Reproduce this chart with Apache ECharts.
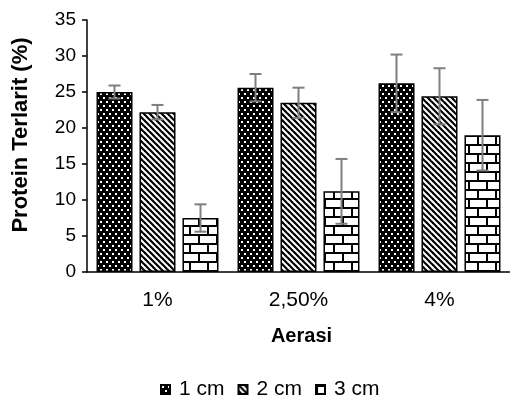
<!DOCTYPE html>
<html>
<head>
<meta charset="utf-8">
<script src="https://cdn.jsdelivr.net/npm/echarts@6/dist/echarts.min.js"></script>
<style>
  html, body { margin: 0; padding: 0; background: #fff; }
  #chart { width: 510px; height: 403px; }
</style>
</head>
<body>
<div id="chart"></div>
<script>
  // kategori aerasi
  var categories = ['1%', '2,50%', '4%'];
  var seriesNames = ['1 cm', '2 cm', '3 cm'];
  // rata-rata protein terlarit
  var val1cm = [25.0, 25.6, 26.2];
  var val2cm = [22.2, 23.5, 24.4];
  var val3cm = [7.5, 11.2, 19.0];
  // simpangan (error bar)
  var err1cm = [0.9, 1.9, 4.0];
  var err2cm = [1.0, 2.1, 3.9];
  var err3cm = [1.9, 4.5, 4.9];
  var yTicks = [0, 5, 10, 15, 20, 25, 30, 35];

  var values = [val1cm, val2cm, val3cm];
  var errors = [err1cm, err2cm, err3cm];

  var barW = 36;
  var barGapPx = 7;

  function makeTile(w, h, draw) {
    var c = document.createElement('canvas');
    c.width = w;
    c.height = h;
    draw(c.getContext('2d'));
    return c;
  }

  // titik putih di atas hitam
  var dotTile = makeTile(6, 8, function (ctx) {
    ctx.fillStyle = '#000';
    ctx.fillRect(0, 0, 6, 8);
    ctx.fillStyle = '#fff';
    ctx.fillRect(1, 1, 2, 2);
    ctx.fillRect(4, 5, 2, 2);
  });
  // garis miring
  var stripeTile = makeTile(6, 6, function (ctx) {
    ctx.fillStyle = '#fff';
    ctx.fillRect(0, 0, 6, 6);
    ctx.strokeStyle = '#000';
    ctx.lineWidth = 2.2;
    [-6, 0, 6].forEach(function (c) {
      ctx.beginPath();
      ctx.moveTo(-1, -1 + c);
      ctx.lineTo(7, 7 + c);
      ctx.stroke();
    });
  });
  // batu bata
  var brickTile = makeTile(18, 18, function (ctx) {
    ctx.fillStyle = '#fff';
    ctx.fillRect(0, 0, 18, 18);
    ctx.fillStyle = '#000';
    ctx.fillRect(0, 0, 18, 2);
    ctx.fillRect(0, 9, 18, 2);
    ctx.fillRect(0, 0, 2, 9);
    ctx.fillRect(9, 9, 2, 9);
  });
  var tiles = [dotTile, stripeTile, brickTile];

  var font = '"Liberation Sans", Arial, sans-serif';

  var barSeries = seriesNames.map(function (name, i) {
    return {
      name: name,
      type: 'bar',
      data: values[i],
      barWidth: barW,
      barGap: (barGapPx / barW * 100).toFixed(1) + '%',
      itemStyle: {
        color: { image: tiles[i], repeat: 'repeat' },
        borderColor: '#000',
        borderWidth: 1.5
      }
    };
  });

  var errSeries = seriesNames.map(function (name, i) {
    return {
      type: 'custom',
      name: 'err' + i,
      z: 10,
      data: values[i].map(function (v, k) {
        return [k, v - errors[i][k], v + errors[i][k]];
      }),
      renderItem: function (params, api) {
        var off = (i - 1) * (barW + barGapPx);
        var lo = api.coord([api.value(0), api.value(1)]);
        var hi = api.coord([api.value(0), api.value(2)]);
        var x = lo[0] + off;
        var cap = 6;
        var st = { stroke: '#7f7f7f', lineWidth: 2 };
        return {
          type: 'group',
          children: [
            { type: 'line', shape: { x1: x, y1: lo[1], x2: x, y2: hi[1] }, style: st },
            { type: 'line', shape: { x1: x - cap, y1: hi[1], x2: x + cap, y2: hi[1] }, style: st },
            { type: 'line', shape: { x1: x - cap, y1: lo[1], x2: x + cap, y2: lo[1] }, style: st }
          ]
        };
      },
      silent: true
    };
  });

  var chart = echarts.init(document.getElementById('chart'));
  chart.setOption({
    animation: false,
    textStyle: { fontFamily: font },
    grid: { left: 87, top: 20, bottom: 131, right: -8, containLabel: false },
    legend: {
      data: seriesNames,
      bottom: 3,
      left: 160,
      padding: 0,
      icon: 'rect',
      itemWidth: 9,
      itemHeight: 9,
      itemGap: 13,
      textStyle: { fontFamily: font, fontSize: 21, color: '#000', padding: [0, 0, 0, 4] }
    },
    xAxis: {
      type: 'category',
      data: categories,
      name: 'Aerasi',
      nameLocation: 'middle',
      nameGap: 54,
      nameTextStyle: { fontFamily: font, fontSize: 20, fontWeight: 'bold', color: '#000', padding: [0, 0, 0, 6] },
      axisLine: { lineStyle: { color: '#000', width: 1.5 } },
      axisTick: { show: false },
      axisLabel: { fontFamily: font, fontSize: 21, color: '#000', margin: 18 }
    },
    yAxis: {
      type: 'value',
      min: yTicks[0],
      max: yTicks[yTicks.length - 1],
      interval: yTicks[1] - yTicks[0],
      name: 'Protein Terlarit (%)',
      nameLocation: 'middle',
      nameGap: 55,
      nameTextStyle: { fontFamily: font, fontSize: 22, fontWeight: 'bold', color: '#000', padding: [0, 0, 0, 22] },
      axisLine: { show: true, lineStyle: { color: '#000', width: 1.5 } },
      axisTick: { show: true, length: 5, lineStyle: { color: '#000', width: 1.5 } },
      axisLabel: { fontFamily: font, fontSize: 19, color: '#000', margin: 11 },
      splitLine: { show: false }
    },
    series: barSeries.concat(errSeries)
  });
</script>
</body>
</html>
